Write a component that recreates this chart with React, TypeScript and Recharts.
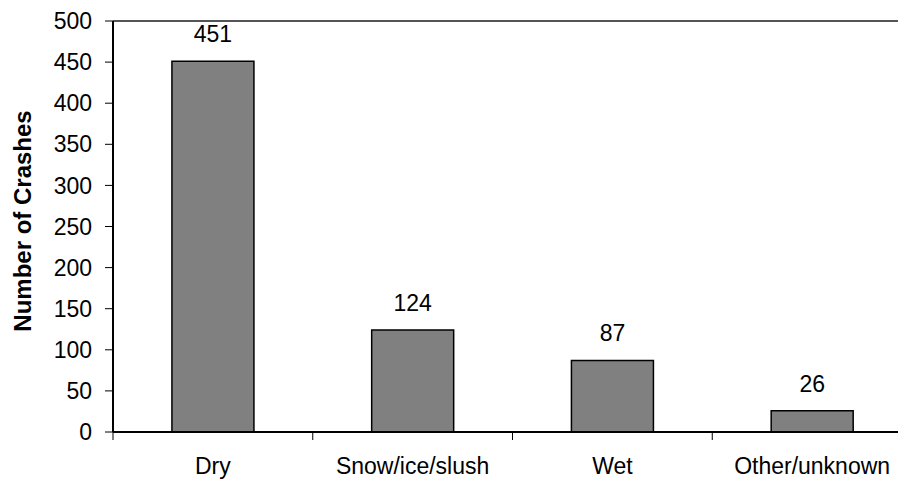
import { Bar, BarChart, LabelList, Label, ReferenceLine, XAxis, YAxis } from "recharts"

const categories = ["Dry", "Snow/ice/slush", "Wet", "Other/unknown"]
const crashes = [451, 124, 87, 26]
const yTicks = [0, 50, 100, 150, 200, 250, 300, 350, 400, 450, 500]

const data = categories.map((name, i) => ({ name, crashes: crashes[i] }))

const font = "'Liberation Sans', Arial, sans-serif"

const chartWidth = 912
const yAxisWidth = 113
const halfBand = (chartWidth - yAxisWidth) / categories.length / 2
const tickSize = 8
const tickMargin = 18

// tick marks sit between the categories, like the original
function CategoryTick(props: any) {
  const { x, y, payload } = props
  const axisY = y - tickSize - tickMargin
  return (
    <g>
      <line x1={x - halfBand} x2={x - halfBand} y1={axisY} y2={axisY + tickSize} stroke="#000" strokeWidth={1} />
      <text x={x} y={y} dy="0.71em" textAnchor="middle" fill="#000" fontSize={23} fontFamily={font}>
        {payload.value}
      </text>
    </g>
  )
}

export default function App() {
  return (
    <div style={{ position: "fixed", left: 0, top: 0, width: 898, height: 479, overflow: "hidden", background: "#fff" }}>
      <BarChart
        width={chartWidth}
        height={479}
        data={data}
        margin={{ top: 21, right: 0, bottom: 0, left: 0 }}
        barCategoryGap="29.5%"
      >
        <ReferenceLine y={500} stroke="#555" strokeWidth={2} ifOverflow="extendDomain" />
        <XAxis
          dataKey="name"
          height={47}
          tickSize={tickSize}
          tickMargin={tickMargin}
          interval={0}
          axisLine={{ stroke: "#000", strokeWidth: 2 }}
          tickLine={false}
          tick={<CategoryTick />}
        />
        <YAxis
          width={yAxisWidth}
          domain={[0, 500]}
          ticks={yTicks}
          interval={0}
          tickSize={8}
          tickMargin={13}
          axisLine={{ stroke: "#000", strokeWidth: 2 }}
          tickLine={{ stroke: "#000", strokeWidth: 1 }}
          tick={{ fill: "#000", fontSize: 23, fontFamily: font }}
        >
          <Label
            value="Number of Crashes"
            angle={-90}
            position="center"
            dx={-34.5}
            dy={-5.5}
            style={{ fill: "#000", fontSize: 24, fontWeight: "bold", fontFamily: font }}
          />
        </YAxis>
        <Bar dataKey="crashes" fill="#808080" stroke="#000" strokeWidth={1.5} isAnimationActive={false}>
          <LabelList
            dataKey="crashes"
            position="top"
            offset={19}
            style={{ fill: "#000", fontSize: 23, fontFamily: font }}
          />
        </Bar>
      </BarChart>
    </div>
  )
}
